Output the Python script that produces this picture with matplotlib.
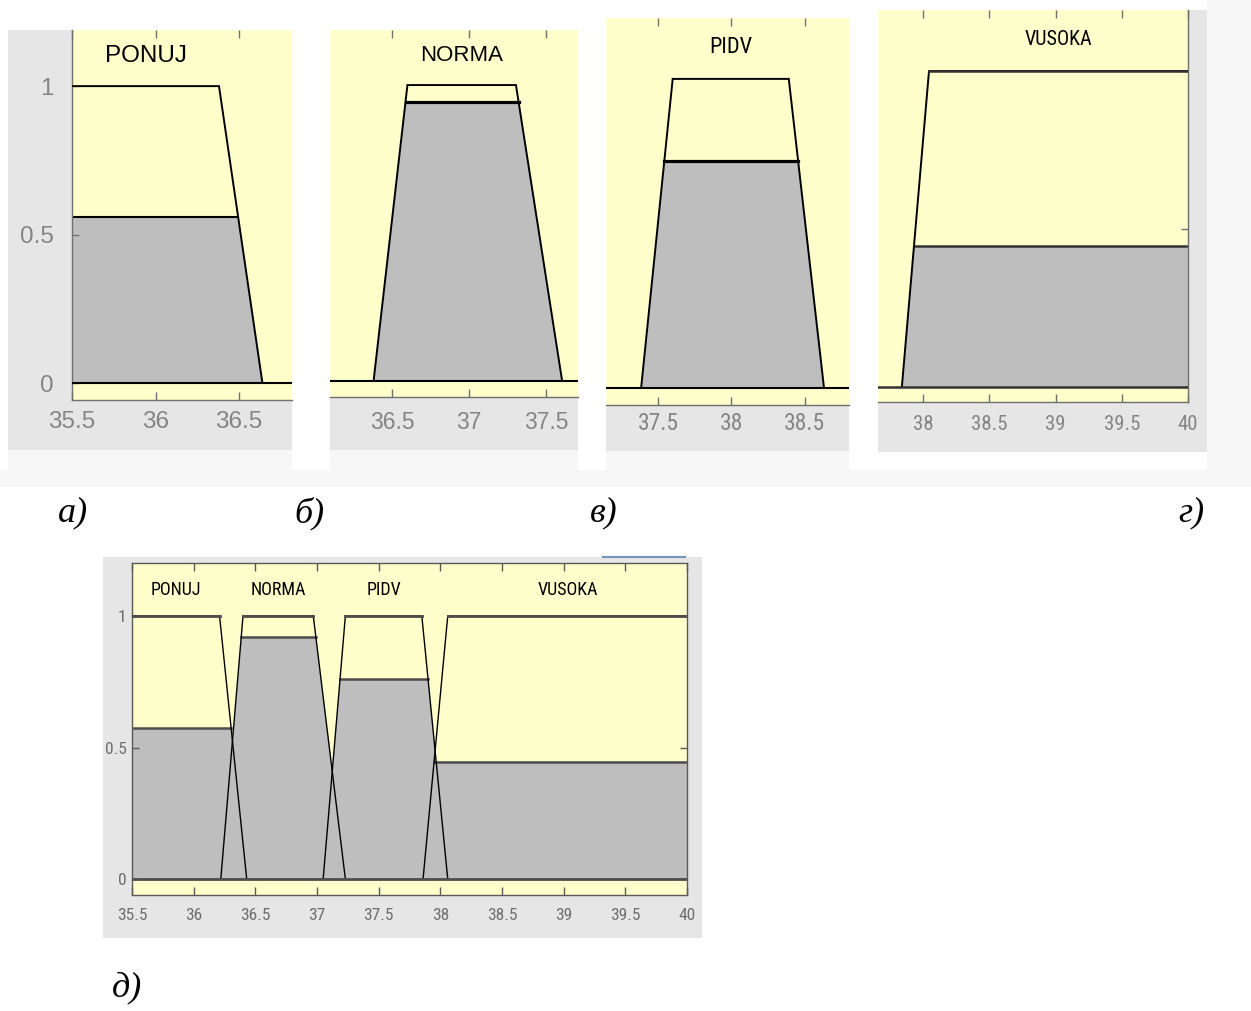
import numpy as np
import matplotlib
matplotlib.use("Agg")
import matplotlib.pyplot as plt
from matplotlib.patches import Rectangle
from matplotlib.lines import Line2D
from matplotlib import font_manager as fm

# ------------------------------------------------------------------ data
# panel а) – PONUJ
a_names = ["PONUJ"]
a_params = [[35.5, 35.5, 36.38, 36.64]]
a_clip = [0.56]
a_xticks = [35.5, 36.0, 36.5]
a_xticklabels = ["35.5", "36", "36.5"]

# panel б) – NORMA
b_names = ["NORMA"]
b_params = [[36.38, 36.60, 37.305, 37.605]]
b_clip = [0.943]
b_xticks = [36.5, 37.0, 37.5]
b_xticklabels = ["36.5", "37", "37.5"]

# panel в) – PIDV
v_names = ["PIDV"]
v_params = [[37.385, 37.60, 38.39, 38.63]]
v_clip = [0.735]
v_xticks = [37.5, 38.0, 38.5]
v_xticklabels = ["37.5", "38", "38.5"]

# panel г) – VUSOKA
g_names = ["VUSOKA"]
g_params = [[37.84, 38.045, 40.0, 40.0]]
g_clip = [0.446]
g_xticks = [38.0, 38.5, 39.0, 39.5, 40.0]
g_xticklabels = ["38", "38.5", "39", "39.5", "40"]

# panel д) – all four terms
d_names = ["PONUJ", "NORMA", "PIDV", "VUSOKA"]
d_params = [[35.5, 35.5, 36.21, 36.43],
            [36.22, 36.40, 36.97, 37.23],
            [37.05, 37.23, 37.85, 38.06],
            [37.86, 38.06, 40.0, 40.0]]
d_clip = [0.573, 0.921, 0.759, 0.446]
d_xticks = [35.5, 36.0, 36.5, 37.0, 37.5, 38.0, 38.5, 39.0, 39.5, 40.0]
d_xticklabels = ["35.5", "36", "36.5", "37", "37.5", "38", "38.5", "39", "39.5", "40"]

y_ticks = [0.0, 0.5, 1.0]
y_ticklabels = ["0", "0.5", "1"]

panel_letters = ["а)", "б)", "в)", "г)", "д)"]

# ------------------------------------------------------------------ style
W, H = 1251, 1011
YELLOW = "#FFFFCC"
FILL = "#BEBEBE"
FRAME = "#E6E6E6"
OFFWHITE = "#F7F7F7"

avail = {f.name for f in fm.fontManager.ttflist}
NARROW = next((n for n in ["Liberation Sans Narrow", "Roboto Condensed",
                           "Open Sans Condensed"] if n in avail), None)
SANS = "Liberation Sans"
narrow_fam = NARROW if NARROW else SANS


def nsz(narrow_size, plain_size):
    return narrow_size if NARROW else plain_size


fig = plt.figure(figsize=(W / 100, H / 100), dpi=100)
fig.patch.set_facecolor("white")


def frac(x0, y0, x1, y1):
    return [x0 / W, 1 - y1 / H, (x1 - x0) / W, (y1 - y0) / H]


def bg(x0, y0, x1, y1, color, z=-10):
    fig.add_artist(Rectangle((x0 / W, 1 - y1 / H), (x1 - x0) / W, (y1 - y0) / H,
                             transform=fig.transFigure, facecolor=color,
                             edgecolor="none", zorder=z))


def draw_panel(cfg):
    ax = fig.add_axes(frac(*cfg["axes"]))
    ax.set_facecolor(YELLOW)
    ax.set_xlim(cfg["xlim"])
    ax.set_ylim(cfg["ylim"])
    for name, p, h in zip(cfg["names"], cfg["params"], cfg["clip"]):
        a, b, c, d = p
        xl = a + h * (b - a)
        xr = d - h * (d - c)
        ax.fill([a, xl, xr, d], [0, h, h, 0], color=FILL, lw=0, zorder=1)
        ys = [1 if a == b else 0, 1, 1, 1 if c == d else 0]
        ax.plot([a, b, c, d], ys, color="black", lw=cfg["mf_lw"], zorder=3,
                solid_joinstyle="miter")
        if cfg.get("top_lw"):
            ax.plot([b, c], [1, 1], color=cfg["hcolor"], lw=cfg["top_lw"], zorder=3)
        ax.plot([xl, xr], [h, h], color=cfg["hcolor"], lw=cfg["clip_lw"], zorder=2)
        ax.text((b + c) / 2, 1.1, name, ha="center", va="center",
                fontsize=cfg["title_fs"], family=cfg["family"], color="black")
    ax.axhline(0, color=cfg["hcolor"], lw=cfg["zero_lw"], zorder=3)

    for side in ["left", "right", "top", "bottom"]:
        ax.spines[side].set_visible(side in cfg["spines"])
        ax.spines[side].set_color(cfg["spine_color"])
        ax.spines[side].set_linewidth(1.0)

    ax.set_xticks(cfg["xticks"])
    ax.set_xticklabels(cfg["xticklabels"])
    ax.tick_params(axis="x", direction="in", length=6, width=1.0,
                   color=cfg["spine_color"], top=True, bottom=True,
                   labelsize=cfg["tick_fs"], labelcolor=cfg["label_color"],
                   pad=cfg["xpad"])
    ysides = cfg["yticks"]
    if ysides:
        ax.set_yticks(y_ticks)
        ax.set_yticklabels(y_ticklabels)
        ax.tick_params(axis="y", direction="in", length=5, width=1.0,
                       color=cfg["spine_color"],
                       left="left" in ysides, right="right" in ysides,
                       labelleft=cfg.get("ylabels", False), labelright=False,
                       labelsize=cfg["tick_fs"], labelcolor=cfg["label_color"],
                       pad=cfg.get("ypad", 4))
    else:
        ax.set_yticks([])
    for lab in ax.get_xticklabels() + ax.get_yticklabels():
        lab.set_family(cfg["family"])
    return ax


# ------------------------------------------------------------------ backgrounds
bg(0, 470, W, 487, OFFWHITE)
bg(1207, 0, W, 487, OFFWHITE)
bg(8, 450, 292, 478, OFFWHITE)
bg(330, 450, 578, 478, OFFWHITE)
bg(606, 451, 849, 478, OFFWHITE)
bg(8, 30, 292, 450, FRAME)
bg(330, 30, 578, 450, FRAME)
bg(606, 18, 849, 451, FRAME)
bg(878, 10, 1207, 452, FRAME)
bg(103, 557, 702, 938, FRAME)
fig.add_artist(Line2D([603 / W, 685 / W], [1 - 557 / H, 1 - 557 / H],
                      transform=fig.transFigure, color="#7393bd", lw=1.5, zorder=-5))

# ------------------------------------------------------------------ panels
common = dict(mf_lw=1.4, hcolor="black", spine_color="#707070", label_color="#858585")

draw_panel(dict(common, axes=(72, 30, 292, 400), xlim=(35.5, 36.817), ylim=(-0.057, 1.189),
                names=a_names, params=a_params, clip=a_clip,
                xticks=a_xticks, xticklabels=a_xticklabels,
                clip_lw=1.5, zero_lw=1.5, title_fs=17.5, tick_fs=17.5, family=SANS,
                spines=["left", "bottom"], yticks=["left"], ylabels=True, ypad=13, xpad=8))

draw_panel(dict(common, axes=(330, 30, 578, 397), xlim=(36.097, 37.708), ylim=(-0.054, 1.186),
                names=b_names, params=b_params, clip=b_clip,
                xticks=b_xticks, xticklabels=b_xticklabels,
                clip_lw=2.3, zero_lw=1.5, title_fs=16, tick_fs=16.5, family=SANS,
                spines=["bottom"], yticks=[], xpad=10))

draw_panel(dict(common, axes=(606, 18, 849, 405), xlim=(37.146, 38.80), ylim=(-0.055, 1.197),
                names=v_names, params=v_params, clip=v_clip,
                xticks=v_xticks, xticklabels=v_xticklabels,
                clip_lw=2.3, zero_lw=1.5, title_fs=nsz(16, 13.5), tick_fs=nsz(17, 15),
                family=narrow_fam, spines=["bottom"], yticks=[], xpad=5))

draw_panel(dict(common, axes=(878, 10, 1188, 402), xlim=(37.66, 40.0), ylim=(-0.047, 1.193),
                names=g_names, params=g_params, clip=g_clip,
                xticks=g_xticks, xticklabels=g_xticklabels, hcolor="#333333",
                clip_lw=1.8, zero_lw=1.8, top_lw=1.8, title_fs=nsz(14.5, 12),
                tick_fs=nsz(15, 12.5), family=narrow_fam,
                spines=["bottom", "right"], yticks=["right"], xpad=9))

draw_panel(dict(common, axes=(132, 563, 687, 895), xlim=(35.5, 40.0), ylim=(-0.0608, 1.2015),
                names=d_names, params=d_params, clip=d_clip,
                xticks=d_xticks, xticklabels=d_xticklabels, mf_lw=1.0, hcolor="#4d4d4d",
                spine_color="#5a5a5a", label_color="#6e6e6e",
                clip_lw=1.8, zero_lw=2.0, top_lw=2.0, title_fs=nsz(13, 10.5),
                tick_fs=nsz(12.5, 10.5), family=narrow_fam,
                spines=["left", "right", "top", "bottom"],
                yticks=["left", "right"], ylabels=True, ypad=4, xpad=9))

# ------------------------------------------------------------------ panel letters
letter_pos = [(58, 513), (294, 513), (590, 513), (1178, 513), (112, 988)]
for txt, (x, y) in zip(panel_letters, letter_pos):
    fig.text(x / W, 1 - y / H, txt, ha="left", va="center", fontsize=26,
             family="Liberation Serif", style="italic", color="black")

fig.savefig("out.png", dpi=100, facecolor="white")
